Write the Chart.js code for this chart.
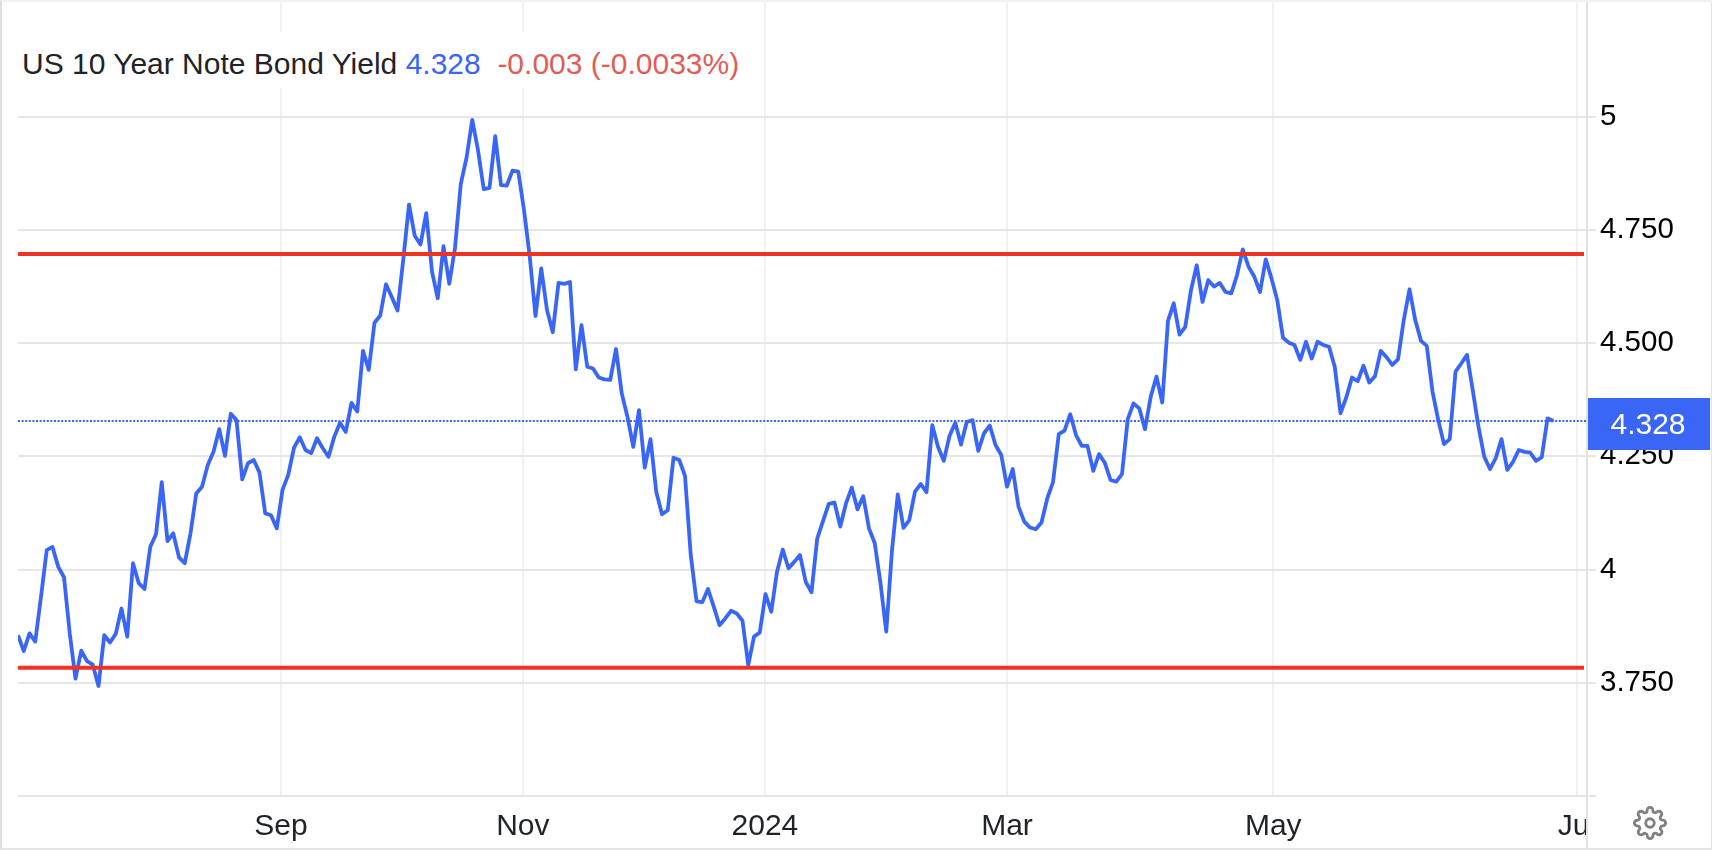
<!DOCTYPE html>
<html><head><meta charset="utf-8">
<script src="https://cdn.jsdelivr.net/npm/chart.js@4"></script>
<style>
html,body{margin:0;padding:0;background:#fff;width:1712px;height:850px;overflow:hidden}
#wrap{position:relative;width:1712px;height:850px}
canvas{position:absolute;left:0;top:0}
#frame{position:absolute;left:0;top:0;width:1712px;height:850px;box-sizing:border-box;border-left:2px solid #dedede;border-top:2px solid #f1f1f1;border-right:1px solid #e2e2e2;border-bottom:2px solid #e4e4e4;pointer-events:none}
#head{position:absolute;left:4px;top:32px;width:740px;height:56px;background:#fff;font:30px "Liberation Sans",sans-serif;line-height:64px;white-space:pre;padding-left:18px;box-sizing:border-box;color:#1f2328}
#head .v{color:#3a66f7}#head .c{color:#e25c55}
#gear{position:absolute;left:1633px;top:806px;width:34px;height:34px}
</style></head><body>
<div id="wrap"><canvas id="c" width="1712" height="850"></canvas><div id="frame"></div>
<div id="head">US 10 Year Note Bond Yield <span class="v">4.328</span>  <span class="c">-0.003 (-0.0033%)</span></div>
<svg id="gear" viewBox="0 0 24 24" fill="none" stroke="#808080" stroke-width="2"><circle cx="12" cy="12" r="3"/><path d="M19.4 15a1.65 1.65 0 0 0 .33 1.82l.06.06a2 2 0 0 1 0 2.83 2 2 0 0 1-2.83 0l-.06-.06a1.65 1.65 0 0 0-1.82-.33 1.65 1.65 0 0 0-1 1.51V21a2 2 0 0 1-2 2 2 2 0 0 1-2-2v-.09A1.65 1.65 0 0 0 9 19.4a1.65 1.65 0 0 0-1.82.33l-.06.06a2 2 0 0 1-2.83 0 2 2 0 0 1 0-2.83l.06-.06a1.65 1.65 0 0 0 .33-1.82 1.65 1.65 0 0 0-1.51-1H3a2 2 0 0 1-2-2 2 2 0 0 1 2-2h.09A1.65 1.65 0 0 0 4.6 9a1.65 1.65 0 0 0-.33-1.82l-.06-.06a2 2 0 0 1 0-2.83 2 2 0 0 1 2.83 0l.06.06a1.65 1.65 0 0 0 1.82.33H9a1.65 1.65 0 0 0 1-1.51V3a2 2 0 0 1 2-2 2 2 0 0 1 2 2v.09a1.65 1.65 0 0 0 1 1.51 1.65 1.65 0 0 0 1.82-.33l.06-.06a2 2 0 0 1 2.83 0 2 2 0 0 1 0 2.83l-.06.06a1.65 1.65 0 0 0-.33 1.82V9a1.65 1.65 0 0 0 1.51 1H21a2 2 0 0 1 2 2 2 2 0 0 1-2 2h-.09a1.65 1.65 0 0 0-1.51 1z"/></svg>
</div>
<script>
const yieldValues = [
3.855,3.820,3.859,3.841,3.940,4.043,4.050,4.006,3.983,3.859,
3.759,3.821,3.798,3.790,3.743,3.855,3.839,3.858,3.914,3.852,
4.014,3.970,3.957,4.050,4.078,4.193,4.063,4.080,4.027,4.014,
4.080,4.168,4.183,4.231,4.260,4.310,4.251,4.344,4.330,4.199,
4.235,4.242,4.214,4.124,4.120,4.091,4.176,4.209,4.269,4.292,
4.264,4.257,4.290,4.268,4.249,4.293,4.324,4.304,4.368,4.349,
4.483,4.441,4.545,4.561,4.630,4.602,4.572,4.684,4.806,4.737,
4.718,4.787,4.658,4.599,4.714,4.631,4.710,4.851,4.909,4.993,
4.926,4.840,4.843,4.957,4.849,4.848,4.881,4.879,4.794,4.691,
4.560,4.665,4.573,4.524,4.633,4.631,4.635,4.442,4.540,4.448,
4.444,4.424,4.420,4.419,4.487,4.389,4.337,4.271,4.352,4.225,
4.288,4.172,4.122,4.131,4.247,4.242,4.207,4.032,3.930,3.928,
3.957,3.918,3.877,3.892,3.909,3.903,3.887,3.789,3.852,3.861,
3.946,3.907,3.995,4.044,4.003,4.017,4.032,3.973,3.950,4.069,
4.107,4.145,4.148,4.095,4.146,4.181,4.133,4.162,4.091,4.058,
3.970,3.863,4.043,4.166,4.092,4.109,4.172,4.189,4.171,4.319,
4.271,4.240,4.295,4.324,4.276,4.326,4.330,4.262,4.301,4.318,
4.275,4.253,4.183,4.222,4.139,4.106,4.093,4.089,4.104,4.157,
4.193,4.299,4.307,4.343,4.297,4.273,4.273,4.218,4.255,4.236,
4.198,4.194,4.211,4.332,4.367,4.356,4.310,4.382,4.426,4.369,
4.549,4.588,4.519,4.536,4.617,4.672,4.591,4.639,4.625,4.633,
4.613,4.610,4.650,4.707,4.669,4.647,4.613,4.685,4.643,4.595,
4.512,4.501,4.496,4.463,4.503,4.466,4.503,4.496,4.492,4.448,
4.345,4.380,4.424,4.416,4.450,4.413,4.427,4.483,4.469,4.452,
4.464,4.551,4.619,4.551,4.505,4.494,4.393,4.330,4.277,4.288,
4.437,4.455,4.474,4.396,4.315,4.249,4.222,4.246,4.288,4.220,
4.238,4.264,4.260,4.258,4.240,4.248,4.334,4.328];
const resistanceLevel = 4.697;
const supportLevel = 3.783;
const yTickValues = [3.5,3.75,4,4.25,4.5,4.75,5];
const yTickLabels = ["","3.750","4","4.250","4.500","4.750","5"];
const xTickPositions = [45.74,87.8,129.9,172,218.3,271.1];
const xTickLabels = ["Sep","Nov","2024","Mar","May","Jul"];

const lastValue = yieldValues[yieldValues.length-1];
const pts = yieldValues.map((v,i)=>({x:i,y:v}));
const FONT = '"Liberation Sans", sans-serif';
const XMAX = 1569/5.75, RED_END = 1566/5.75;

const panel = {
  id:'panel',
  beforeDatasetsDraw(c){
    const g=c.ctx;
    g.save();
    g.fillStyle='#fff';
    g.fillRect(1588,798,121,50);
    g.fillStyle='#e2e2e2';
    g.fillRect(1586,796,2,52);
    g.restore();
  },
  afterDraw(c){
    const g=c.ctx, y=c.scales.y.getPixelForValue(lastValue);
    g.save();
    g.fillStyle='#3a66f7';
    g.fillRect(1588,Math.round(y)-23,122,52);
    g.fillStyle='#fff';
    g.font='30px '+FONT;
    g.textAlign='center';g.textBaseline='middle';
    g.fillText(lastValue.toFixed(3),1648,Math.round(y)+5);
    g.restore();
  }
};

new Chart(document.getElementById('c'),{
  type:'line',
  data:{datasets:[
    {data:[{x:0,y:resistanceLevel},{x:RED_END,y:resistanceLevel}],borderColor:'#ee3324',borderWidth:4,pointRadius:0,order:1},
    {data:[{x:0,y:supportLevel},{x:RED_END,y:supportLevel}],borderColor:'#ee3324',borderWidth:4,pointRadius:0,order:1},
    {data:pts,borderColor:'#3a66f7',borderWidth:3.8,pointRadius:0,tension:0,order:2,borderJoinStyle:'round'},
    {data:[{x:0,y:lastValue},{x:XMAX,y:lastValue}],borderColor:'#3a66f7',borderWidth:2,borderDash:[2,1.6],pointRadius:0,order:3}
  ]},
  options:{
    responsive:false,animation:false,parsing:false,normalized:true,
    layout:{padding:{left:18,top:2,right:0,bottom:0}},
    plugins:{legend:{display:false},tooltip:{enabled:false},title:{display:false}},
    scales:{
      x:{type:'linear',min:0,max:XMAX,
        afterBuildTicks(s){s.ticks=xTickPositions.map(v=>({value:v}));},
        afterFit(s){s.height=54;s.paddingLeft=0;s.paddingRight=0;},
        grid:{color:'#eef2f5',lineWidth:2,drawTicks:false},
        border:{display:false},
        ticks:{autoSkip:false,maxRotation:0,minRotation:0,padding:13,color:'#1f2328',
          font:{family:FONT,size:30},
          callback(v,i){return xTickLabels[i];}}
      },
      y:{type:'linear',position:'right',min:3.5,max:5.2533,
        afterBuildTicks(s){s.ticks=yTickValues.map(v=>({value:v}));},
        afterFit(s){s.width=125;s.paddingTop=0;s.paddingBottom=0;},
        grid:{color:'#e6e6e6',lineWidth:2,tickLength:9,tickColor:'#e6e6e6'},
        border:{display:true,color:'#e2e2e2',width:2},
        ticks:{padding:4,color:'#000',align:'center',crossAlign:'near',
          font:{family:FONT,size:29.5},
          callback(v,i){return yTickLabels[i];}}
      }
    }
  },
  plugins:[panel]
});
</script></body></html>
